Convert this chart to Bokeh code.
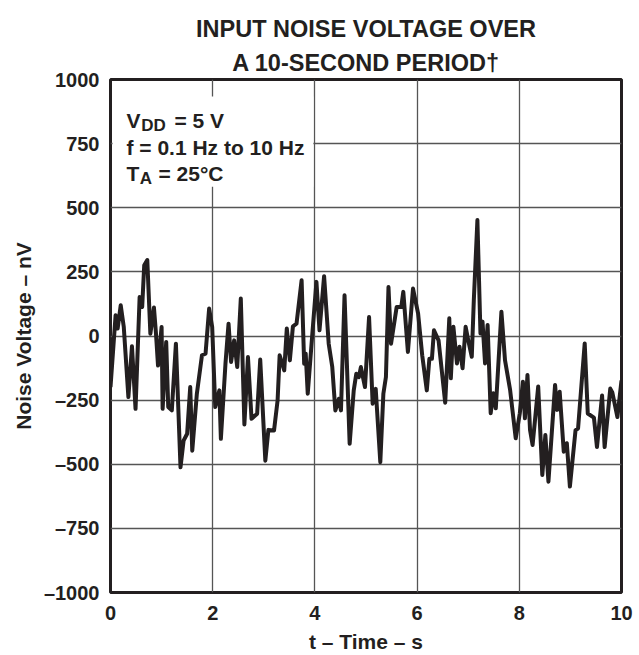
from bokeh.plotting import figure
from bokeh.models import Label, FixedTicker, Range1d, Title
from bokeh.embed import file_html
from bokeh.resources import INLINE

# ---- data ----
time_s = [0.00, 0.10, 0.14, 0.20, 0.26, 0.35, 0.42, 0.49, 0.57, 0.62, 0.66, 0.72, 0.78, 0.85,
          0.89, 0.93, 1.00, 1.02, 1.09, 1.13, 1.20, 1.28, 1.37, 1.43, 1.50, 1.56, 1.60, 1.69,
          1.79, 1.86, 1.93, 1.99, 2.05, 2.13, 2.16, 2.25, 2.31, 2.36, 2.42, 2.48, 2.55, 2.62,
          2.69, 2.76, 2.87, 2.93, 3.03, 3.09, 3.20, 3.27, 3.31, 3.40, 3.45, 3.51, 3.57, 3.64,
          3.74, 3.79, 3.82, 3.86, 3.95, 4.03, 4.09, 4.18, 4.27, 4.34, 4.40, 4.47, 4.51, 4.58,
          4.68, 4.76, 4.81, 4.86, 4.90, 4.98, 5.06, 5.13, 5.19, 5.28, 5.34, 5.39, 5.44, 5.49,
          5.60, 5.69, 5.73, 5.82, 5.92, 6.02, 6.10, 6.19, 6.24, 6.29, 6.33, 6.42, 6.55, 6.63,
          6.66, 6.71, 6.78, 6.83, 6.89, 6.95, 7.00, 7.07, 7.11, 7.18, 7.24, 7.28, 7.33, 7.38,
          7.44, 7.49, 7.54, 7.65, 7.72, 7.82, 7.93, 8.01, 8.07, 8.11, 8.16, 8.21, 8.26, 8.32,
          8.37, 8.45, 8.51, 8.57, 8.70, 8.74, 8.79, 8.87, 8.93, 8.99, 9.10, 9.15, 9.28, 9.34,
          9.46, 9.52, 9.62, 9.67, 9.78, 9.82, 9.92, 10.00]
noise_nv = [-199, 81, 29, 120, 35, -238, -40, -284, 152, 113, 276, 296, 9, 111,
            9, -115, 35, -284, -23, -277, -290, -30, -512, -408, -381, -199, -447, -225,
            -75, -69, 107, 35, -277, -212, -401, -108, 48, -101, -17, -121, 146, -345,
            -82, -323, -303, -92, -486, -366, -368, -251, -75, -134, 29, -95, 38, 48,
            217, -108, -69, -225, 9, 211, 22, 233, -30, -121, -290, -245, -290, 159,
            -420, -212, -147, -160, -121, -199, 74, -264, -206, -492, -225, -160, 191, -30,
            113, 113, 172, -62, 185, 87, -75, -212, -89, -89, 22, -17, -260, 69,
            -165, 36, -107, -42, -126, 36, -16, -81, 140, 452, 10, 56, -107, 43,
            -301, -223, -282, 95, -94, -210, -399, -301, -178, -321, -152, -366, -425, -301,
            -197, -542, -386, -568, -191, -288, -217, -451, -418, -587, -368, -360, -29, -302,
            -318, -433, -232, -433, -205, -220, -316, -173]

x_ticks = [0, 2, 4, 6, 8, 10]
y_ticks = [-1000, -750, -500, -250, 0, 250, 500, 750, 1000]
y_tick_labels = ["\u20131000", "\u2013750", "\u2013500", "\u2013250", "0", "250", "500", "750", "1000"]

title_lines = ["INPUT NOISE VOLTAGE OVER", "A 10-SECOND PERIOD\u2020"]
x_title = "t \u2013 Time \u2013 s"
y_title = "Noise Voltage \u2013 nV"

INK = "#231f20"
FONT = "Liberation Sans"

p = figure(width=639, height=655, x_range=Range1d(0, 10), y_range=Range1d(-1000, 1000),
           output_backend="svg", toolbar_location=None,
           min_border_left=110, min_border_right=18, min_border_top=79, min_border_bottom=63)
p.background_fill_color = "white"
p.border_fill_color = "white"
p.outline_line_color = INK
p.outline_line_width = 3

# two-line title (first added sits nearest the frame)
p.add_layout(Title(text=title_lines[1], align="center", offset=4, standoff=8,
                   text_font=FONT, text_font_style="bold", text_font_size="23.5px",
                   text_color=INK), "above")
p.add_layout(Title(text=title_lines[0], align="center", offset=4, standoff=3,
                   text_font=FONT, text_font_style="bold", text_font_size="23.5px",
                   text_color=INK), "above")

for ax in (p.xaxis[0], p.yaxis[0]):
    ax.axis_line_color = None
    ax.major_tick_line_color = None
    ax.minor_tick_line_color = None
    ax.major_label_text_font = FONT
    ax.major_label_text_font_style = "bold"
    ax.major_label_text_font_size = "20px"
    ax.major_label_text_color = INK
    ax.axis_label_text_font = FONT
    ax.axis_label_text_font_style = "bold"
    ax.axis_label_text_font_size = "21px"
    ax.axis_label_text_color = INK

p.xaxis.axis_label = x_title
p.yaxis.axis_label = y_title
p.xaxis.ticker = FixedTicker(ticks=x_ticks)
p.yaxis.ticker = FixedTicker(ticks=y_ticks)
p.yaxis.major_label_overrides = {k: s for k, s in zip(y_ticks, y_tick_labels)}
p.xaxis.major_label_standoff = 7
p.yaxis.major_label_standoff = 5
p.xaxis.axis_label_standoff = 7
p.yaxis.axis_label_standoff = 6

p.xgrid.ticker = FixedTicker(ticks=x_ticks)
p.ygrid.ticker = FixedTicker(ticks=y_ticks)
for g in (p.xgrid[0], p.ygrid[0]):
    g.grid_line_color = "#555555"
    g.grid_line_width = 1.3

# white box behind the conditions text
p.quad(left=0.04, right=3.97, bottom=582, top=934, fill_color="white", line_color=None)

p.line(time_s, noise_nv, line_width=4, line_color=INK, line_join="round")


def lab(x, y, text, size):
    p.add_layout(Label(x=x, y=y, text=text, text_font=FONT, text_font_style="bold",
                       text_font_size=size, text_color=INK, text_align="left",
                       text_baseline="alphabetic"))


# conditions box text
lab(0.313, 840, "V", "21px")
lab(0.600, 821, "DD", "17px")
lab(1.252, 840, "= 5 V", "21px")
lab(0.313, 735, "f = 0.1 Hz to 10 Hz", "21px")
lab(0.313, 635, "T", "21px")
lab(0.570, 614, "A", "17px")
lab(0.939, 635, "= 25\u00b0C", "21px")

open("out.html", "w").write(file_html(p, INLINE))
